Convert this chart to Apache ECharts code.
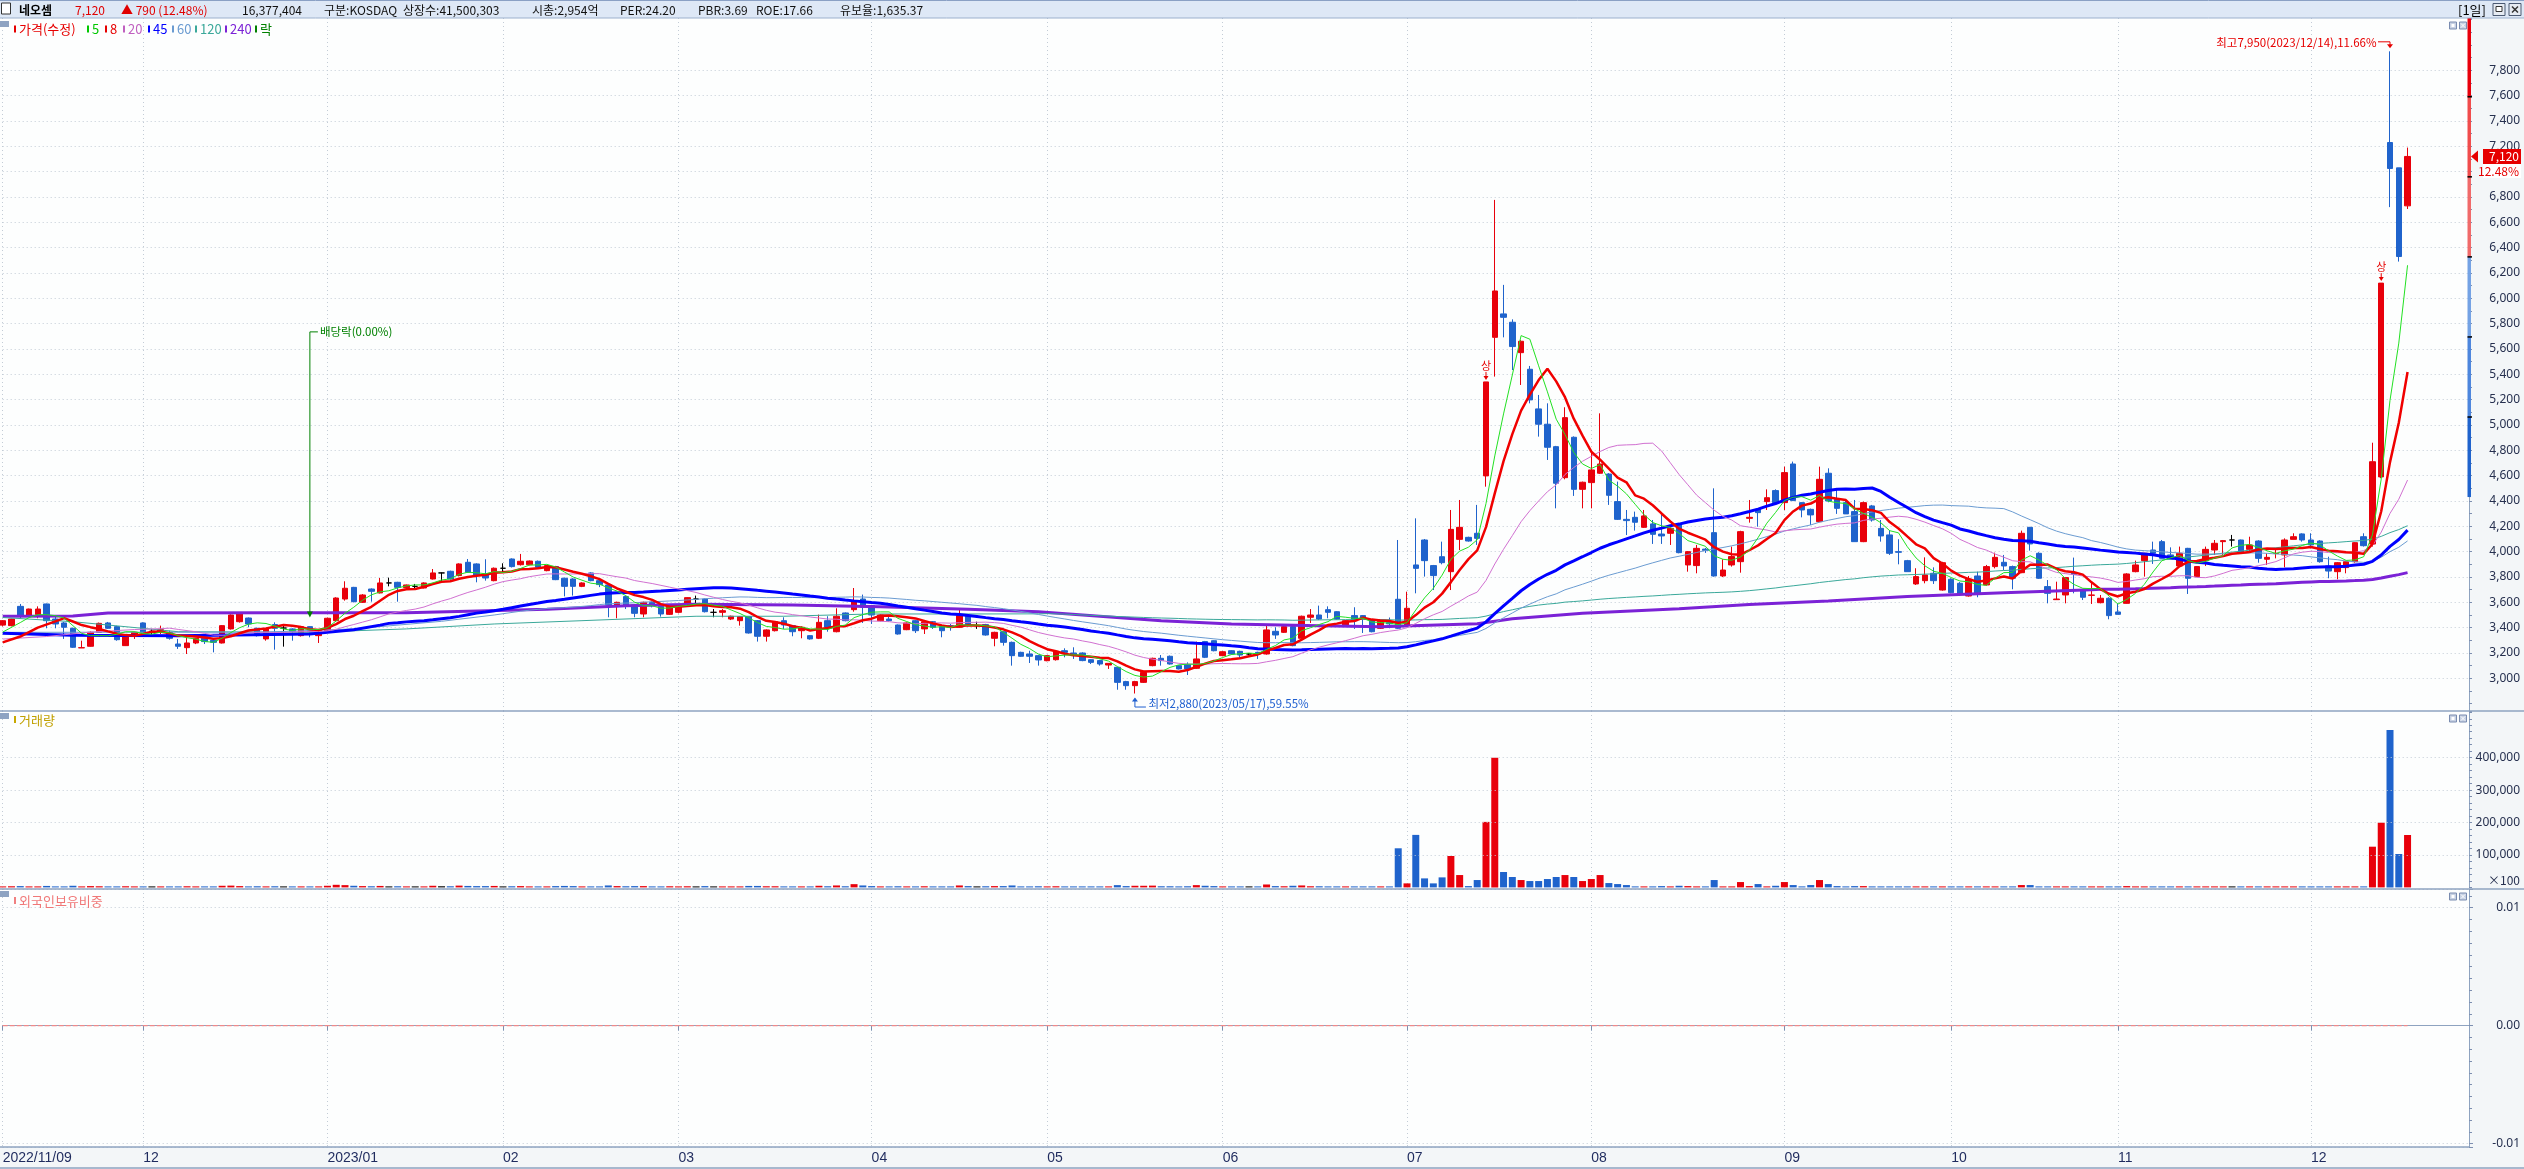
<!DOCTYPE html>
<html>
<head>
<meta charset="utf-8">
<title>네오셈</title>
<script src="https://cdn.jsdelivr.net/npm/echarts@6/dist/echarts.min.js"></script>
<style>
html,body{margin:0;padding:0;background:#f3f6f8;overflow:hidden;}
#chart{width:2524px;height:1169px;}
</style>
</head>
<body>
<div id="chart"></div>
<script>
// ---------------- DATA ----------------
const startDate = '2022-11-09';
const holidays = ['2022-12-30','2023-01-23','2023-01-24','2023-03-01','2023-05-01','2023-05-05','2023-05-29','2023-06-06','2023-08-15','2023-09-28','2023-09-29','2023-10-02','2023-10-03','2023-10-09'];

// [open, close, low, high]
const ohlc = [
[3420,3455,3410,3460],[3416,3468,3410,3470],[3568,3495,3474,3587],[3500,3547,3495,3550],[3503,3547,3474,3568],
[3587,3455,3395,3590],[3468,3429,3395,3500],[3437,3403,3311,3445],[3395,3245,3240,3400],[3240,3242,3240,3297],
[3253,3363,3250,3370],[3363,3434,3360,3440],[3437,3395,3390,3445],[3408,3305,3297,3415],[3258,3342,3255,3350],
[3350,3363,3311,3368],[3437,3363,3358,3442],[3371,3371,3337,3390],[3363,3384,3350,3416],[3363,3316,3305,3376],
[3271,3253,3232,3311],[3242,3279,3192,3332],[3279,3316,3270,3320],[3316,3290,3271,3320],[3300,3284,3205,3305],
[3279,3416,3275,3420],[3390,3500,3385,3505],[3447,3508,3440,3515],[3476,3429,3403,3480],[3395,3337,3330,3400],
[3311,3390,3297,3395],[3424,3395,3226,3442],[3397,3397,3250,3416],[3390,3370,3297,3395],[3337,3408,3330,3412],
[3408,3368,3324,3412],[3337,3382,3279,3390],[3363,3474,3360,3480],[3455,3634,3450,3640],[3626,3711,3613,3766],
[3718,3605,3600,3722],[3600,3658,3595,3665],[3705,3687,3605,3710],[3674,3753,3670,3792],[3753,3753,3726,3795],
[3758,3718,3605,3762],[3716,3737,3710,3740],[3726,3726,3705,3745],[3713,3753,3710,3758],[3784,3832,3780,3863],
[3832,3832,3763,3835],[3845,3784,3780,3850],[3811,3903,3805,3908],[3916,3837,3832,3942],[3903,3811,3758,3908],
[3824,3792,3771,3940],[3771,3869,3766,3875],[3869,3869,3837,3908],[3942,3882,3875,3947],[3897,3924,3890,3982],
[3897,3926,3892,3930],[3924,3876,3870,3930],[3850,3890,3845,3895],[3882,3779,3775,3888],[3790,3726,3647,3795],
[3784,3726,3653,3790],[3726,3753,3720,3758],[3832,3771,3766,3837],[3771,3740,3720,3780],[3737,3579,3482,3742],
[3579,3600,3474,3605],[3645,3574,3547,3653],[3579,3513,3482,3584],[3508,3600,3482,3605],[3600,3574,3560,3610],
[3568,3508,3487,3574],[3505,3579,3500,3584],[3521,3579,3513,3584],[3595,3637,3590,3640],[3626,3626,3587,3653],
[3626,3526,3520,3630],[3521,3521,3482,3547],[3521,3534,3482,3547],[3468,3490,3460,3495],[3455,3487,3416,3492],
[3487,3358,3353,3492],[3455,3332,3290,3460],[3332,3382,3290,3387],[3376,3447,3370,3452],[3455,3421,3390,3482],
[3416,3368,3332,3420],[3376,3403,3316,3410],[3337,3311,3305,3340],[3316,3442,3310,3503],[3455,3403,3368,3490],
[3368,3490,3363,3553],[3516,3455,3450,3520],[3542,3605,3526,3713],[3626,3561,3437,3661],[3574,3500,3429,3580],
[3455,3500,3450,3505],[3468,3455,3447,3490],[3421,3350,3345,3425],[3384,3437,3380,3442],[3455,3376,3358,3460],
[3390,3447,3350,3450],[3447,3403,3390,3452],[3408,3376,3324,3412],[3416,3403,3376,3429],[3403,3495,3398,3540],
[3495,3416,3410,3500],[3416,3416,3390,3447],[3424,3342,3337,3430],[3316,3363,3253,3368],[3368,3284,3258,3372],
[3284,3179,3100,3290],[3205,3174,3170,3210],[3192,3174,3121,3218],[3179,3145,3100,3184],[3139,3179,3135,3184],
[3147,3213,3140,3218],[3218,3205,3166,3237],[3200,3184,3153,3245],[3200,3140,3135,3205],[3147,3126,3113,3150],
[3140,3113,3100,3145],[3105,3118,3074,3120],[3087,2968,2910,3090],[2974,2942,2910,2980],[2942,2974,2880,2980],
[2968,3047,2963,3052],[3100,3158,3095,3163],[3158,3140,3100,3184],[3174,3113,3108,3180],[3100,3074,3070,3105],
[3108,3074,3026,3126],[3079,3153,3074,3290],[3290,3166,3160,3295],[3297,3218,3213,3300],[3179,3210,3174,3215],
[3218,3192,3187,3222],[3213,3184,3158,3218],[3192,3192,3180,3200],[3205,3192,3153,3210],[3192,3382,3187,3429],
[3371,3342,3311,3403],[3363,3408,3358,3421],[3408,3258,3253,3412],[3316,3490,3311,3495],[3482,3500,3437,3547],
[3500,3468,3460,3574],[3542,3521,3474,3568],[3526,3468,3463,3530],[3416,3455,3411,3460],[3495,3455,3390,3561],
[3495,3474,3358,3500],[3463,3368,3363,3468],[3395,3450,3390,3455],[3440,3430,3395,3480],[3624,3395,3390,4092],
[3421,3553,3408,3684],[3895,3868,3671,4263],[4092,3929,3803,4100],[3890,3811,3697,3895],[3960,3913,3900,4079],
[3842,4176,3697,4329],[4097,4192,4013,4408],[4113,4084,4079,4118],[4145,4105,4053,4369],[4598,5340,4513,5340],
[5692,6058,5382,6777],[5877,5850,5692,6106],[5811,5619,5434,5834],[5571,5661,5316,5671],[5440,5198,5171,5466],
[5127,5006,4908,5237],[5006,4824,4724,5171],[4829,4540,4342,4835],[4584,5058,4571,5140],[4903,4492,4440,4910],
[4492,4548,4342,4553],[4545,4645,4342,4803],[4619,4692,4613,5092],[4613,4445,4369,4620],[4395,4255,4250,4553],
[4255,4245,4131,4329],[4271,4232,4166,4316],[4192,4282,4187,4329],[4219,4137,4061,4250],[4139,4124,4061,4303],
[4145,4184,4053,4190],[4219,3992,3987,4225],[3895,4000,3842,4005],[3890,4026,3829,4053],[4020,4010,3990,4030],
[4150,3808,3803,4500],[3808,3855,3800,3940],[3895,3961,3882,4040],[3921,4158,3834,4165],[4263,4271,4229,4408],
[4334,4308,4197,4340],[4395,4426,4329,4492],[4482,4387,4381,4492],[4387,4624,4329,4671],[4692,4403,4400,4711],
[4387,4329,4271,4390],[4334,4290,4211,4340],[4237,4571,4232,4671],[4619,4400,4390,4658],[4413,4342,4298,4487],
[4387,4298,4298,4413],[4316,4079,4079,4408],[4079,4387,4075,4395],[4361,4250,4237,4369],[4184,4124,4079,4250],
[4132,3987,3974,4171],[4000,3995,3900,4098],[3929,3842,3842,3935],[3745,3803,3737,3869],[3771,3816,3750,3955],
[3829,3771,3745,3876],[3697,3913,3692,3920],[3782,3676,3671,3790],[3750,3666,3661,3760],[3650,3782,3645,3808],
[3808,3666,3640,3842],[3737,3882,3732,3895],[3882,3955,3868,3992],[3916,3887,3855,3974],[3882,3790,3703,3890],
[3834,4145,3830,4166],[4192,4061,4008,4195],[3987,3790,3785,3995],[3724,3671,3592,3776],[3621,3626,3621,3763],
[3658,3795,3592,3800],[3834,3821,3671,3953],[3692,3640,3618,3700],[3655,3658,3587,3763],[3597,3632,3592,3658],
[3632,3495,3466,3640],[3524,3505,3505,3592],[3592,3824,3590,3830],[3842,3895,3837,3929],[3929,3987,3803,3990],
[4013,3987,3903,4079],[4079,3947,3945,4092],[3974,3940,3940,4034],[3887,3987,3885,4040],[4026,3790,3666,4030],
[3803,3882,3800,3885],[3929,4018,3887,4040],[4013,4066,3974,4092],[4079,4087,3974,4092],[4092,4092,4040,4132],
[4092,3987,3982,4095],[4018,4053,4000,4118],[4084,3947,3913,4090],[3940,3955,3895,3987],[3985,3987,3947,4026],
[3974,4092,3876,4105],[4097,4118,4097,4145],[4140,4092,4079,4145],[4092,4053,4026,4145],[4084,3921,3913,4090],
[3887,3847,3790,3960],[3842,3913,3782,3918],[3874,3921,3829,3925],[3921,4071,3913,4075],[4118,4047,4040,4145],
[4060,4710,4040,4860],[4590,6120,4580,6120],[7230,7025,6720,7950],[7030,6330,6290,7030],[6730,7120,6705,7190]
];

// volume (display unit: x100 shares)
const volumes = [
3000,3500,4000,2500,3000,4500,2500,3000,5000,3000,
4000,3500,2500,3000,3500,2000,3000,2000,2500,2500,
3000,3500,2500,2000,2500,5000,5500,4000,3000,3500,
3000,3500,2500,2500,3000,3000,2500,5000,8000,7000,
5000,4000,3500,4500,3000,3500,2500,2000,3000,5000,
3500,3500,5500,4500,4000,4000,4500,3000,3500,4000,
3000,3000,2500,4000,4500,4000,2500,3000,2500,6000,
4000,3500,4000,4000,3000,3000,3500,3000,3500,3000,
4000,2500,2500,2500,3000,4500,4500,3500,3500,3000,
3000,3000,2500,5000,3500,6000,3500,10000,6000,4000,
3000,2500,3500,3000,3000,3500,2500,3000,2500,6000,
4000,2500,3500,4000,4000,6000,3000,3000,3500,3000,
3500,2500,2500,3000,2500,2500,2500,7000,4000,5000,
5000,5500,3500,3500,2500,3500,7000,5000,4000,3000,
2500,2500,2000,2500,9000,4000,3500,5000,6000,3500,
3500,3000,3000,2500,2000,2000,2500,2000,3000,120600,
12400,161900,27800,12400,30900,96900,38100,4000,22700,202000,
400000,47400,32000,22700,19600,19600,25800,32000,38100,32000,
19600,25800,38100,13400,10300,7200,2000,3000,3000,4000,
3000,5000,4000,3000,2000,22700,3000,3000,16500,4000,
10300,3000,5000,16500,7200,2000,7200,22700,10300,4000,
2000,4000,4000,2000,1500,1500,1500,1500,1500,1500,
1500,2000,1500,1500,1500,1500,1500,1500,1500,2000,
7200,7200,3000,3000,1500,1500,1500,1500,1500,1500,
1500,1500,4000,2000,1500,1500,1500,1500,1500,3000,
1500,1500,1500,1500,1500,1500,1500,1500,1500,1500,
1500,1500,1500,1500,1500,1500,1500,1500,1500,1500,
125500,199500,485000,103000,161500
];

// foreign ownership ratio (%) - flat 0.00 over the whole period
const foreignRatio = ohlc.map(() => 0);

// moving-average values for the days before each window is complete
const ma5Early   = [[0,3365],[2,3440],[3,3480]];
const ma8Early   = [[0,3284],[2,3330],[4,3400],[6,3450]];
const ma20Early  = [[0,3310],[5,3330],[10,3365],[15,3385],[18,3392]];
const ma45Early  = [[0,3355],[8,3340],[20,3337],[35,3350],[37,3363],[40,3384],[43,3420]];
const ma60Early  = [[0,3363],[30,3365],[40,3390],[50,3450],[56,3500]];
const ma120Early = [[0,3480],[8,3447],[20,3368],[35,3363],[46,3390],[56,3429],[66,3455],[79,3490],[89,3490],[99,3508],[110,3508],[118,3509]];
const ma240Early = [[0,3490],[8,3492],[12,3515],[31,3518],[46,3518],[53,3530],[62,3545],[71,3572],[79,3585],[90,3578],[100,3565],[110,3545],[118,3525],[125,3490],[132,3455],[140,3428],[150,3416],[157,3408],[168,3430],[172,3470],[180,3513],[191,3550],[199,3582],[208,3610],[217,3645],[228,3676],[238,3700]];

const priceGridValues = [3000,3200,3400,3600,3800,4000,4200,4400,4600,4800,5000,5200,5400,5600,5800,6000,6200,6400,6600,6800,7000,7200,7400,7600,7800];
const volumeGridValues = [100000,200000,300000,400000];
const priceRangeBands = [8223,7591,6959,6327,5695,5063,4431];
const exDividend = {index:35, top:5735, tip:3480, label:'배당락(0.00%)'};
const headerTexts = [
  ['네오셈','#000'],['7,120','#e00000'],['▲ 790 (12.48%)','#e00000'],['16,377,404','#111'],['구분:KOSDAQ','#111'],
  ['상장수:41,500,303','#111'],['시총:2,954억','#111'],['PER:24.20','#111'],['PBR:3.69','#111'],['ROE:17.66','#111'],['유보율:1,635.37','#111']
];
const legendItems = [
  ['가격(수정)','#e60000'],['5','#00c800'],['8','#e60000'],['20','#c060c0'],['45','#0000ff'],
  ['60','#6a9bd1'],['120','#3aa89a'],['240','#7b22d6'],['락','#008000']
];

// ---------------- LAYOUT / STYLE ----------------
const headerX = [19,75,121,242,324,403,532,620,698,756,840];
const legendX = [14,87,105,123,148,172,195,225,255];
const UP = '#e8000b', DOWN = '#1f63cc', DOJI = '#000000';
const FONT = '"Noto Sans CJK KR","Noto Sans",sans-serif';
const AXIS_COLOR = '#8ea3c0';
const GRID_LINE = {color:'#c3ccd6', type:[1,3], width:1};
const PLOT_LEFT = 2.7, PLOT_RIGHT = 2469;
const EXTRA = 7;

// trading calendar
function tradingDays(n){
  const out=[]; const d=new Date(startDate+'T00:00:00Z');
  while(out.length<n){
    const dow=d.getUTCDay(); const s=d.toISOString().slice(0,10);
    if(dow!==0 && dow!==6 && holidays.indexOf(s)<0) out.push(s);
    d.setUTCDate(d.getUTCDate()+1);
  }
  return out;
}
const dates = tradingDays(ohlc.length);
const categories = dates.concat(Array.from({length:EXTRA},(_,k)=>'+'+(k+1)));
const tickLabel = {};
dates.forEach((s,i)=>{
  if(i===0){ tickLabel[i]=s.replace(/-/g,'/'); return; }
  if(s.slice(5,7)!==dates[i-1].slice(5,7)) tickLabel[i] = s.slice(5,7)==='01' ? s.slice(0,4)+'/01' : s.slice(5,7);
});
const isTick = (i)=> Object.prototype.hasOwnProperty.call(tickLabel, i);

function movingAvg(n, early){
  const out = early.filter(p=>p[0] < n-1).map(p=>p.slice());
  for(let i=n-1;i<ohlc.length;i++){
    let s=0; for(let k=i-n+1;k<=i;k++) s+=ohlc[k][1];
    out.push([i, Math.round(s/n*10)/10]);
  }
  return out;
}
const signOf = (i)=> ohlc[i][1]>ohlc[i][0] ? 1 : (ohlc[i][1]<ohlc[i][0] ? -1 : 0);
const colorOf = (i)=> { const s=signOf(i); return s>0?UP:(s<0?DOWN:DOJI); };

const maDefs = [
  {n:240, early:ma240Early, color:'#7b22d6', w:3},
  {n:120, early:ma120Early, color:'#3aa89a', w:1},
  {n:60,  early:ma60Early,  color:'#6a9bd1', w:1},
  {n:45,  early:ma45Early,  color:'#0000ff', w:3},
  {n:20,  early:ma20Early,  color:'#d070d0', w:1},
  {n:8,   early:ma8Early,   color:'#f00000', w:2.5},
  {n:5,   early:ma5Early,   color:'#22e022', w:1}
];

function xAxisFor(g){
  const bottom = g===2;
  return {
    type:'category', gridIndex:g, data:categories, boundaryGap:false, position:'bottom',
    axisLine:{show:bottom, lineStyle:{color:AXIS_COLOR}},
    axisTick:{show:bottom, interval:(i)=>isTick(i), length:5, lineStyle:{color:'#7a8fb0'}},
    axisLabel:{show:bottom, interval:(i)=>isTick(i), formatter:(v,i)=>tickLabel[i]||'', align:'left', margin:4,
      color:'#1f2b5e', fontSize:14, fontFamily:'"Liberation Sans Narrow","Liberation Sans",sans-serif'},
    splitLine:{show:true, interval:(i)=>isTick(i), lineStyle:GRID_LINE}
  };
}
const yLabelStyle = {color:'#26304f', fontSize:12, fontFamily:'"Noto Sans",sans-serif', align:'right', margin:51};

const option = {
  animation:false,
  backgroundColor:'transparent',
  grid:[
    {left:PLOT_LEFT, top:18, width:PLOT_RIGHT-PLOT_LEFT, height:693, outerBoundsMode:'none'},
    {left:PLOT_LEFT, top:711, width:PLOT_RIGHT-PLOT_LEFT, height:176.4, outerBoundsMode:'none'},
    {left:PLOT_LEFT, top:889, width:PLOT_RIGHT-PLOT_LEFT, height:258, outerBoundsMode:'none'}
  ],
  xAxis:[xAxisFor(0), xAxisFor(1), xAxisFor(2)],
  yAxis:[
    {type:'value', gridIndex:0, position:'right', min:2742, max:8213, splitNumber:27, minInterval:200, maxInterval:200,
     axisLine:{show:true, lineStyle:{color:AXIS_COLOR}}, axisTick:{show:true, length:3, lineStyle:{color:'#7d8fb0'}},
     minorTick:{show:true, splitNumber:2, length:3, lineStyle:{color:'#7d8fb0'}},
     splitLine:{show:false},
     axisLabel:Object.assign({formatter:(v)=> (v>=3000 && v<=7800) ? v.toLocaleString('en-US') : ''}, yLabelStyle)},
    {type:'value', gridIndex:1, position:'right', min:0, max:543900, splitNumber:5, minInterval:100000, maxInterval:100000,
     axisLine:{show:true, lineStyle:{color:AXIS_COLOR}}, axisTick:{show:true, length:3, lineStyle:{color:'#7d8fb0'}},
     minorTick:{show:true, splitNumber:5, length:3, lineStyle:{color:'#7d8fb0'}},
     splitLine:{show:false},
     axisLabel:Object.assign({formatter:(v)=> (v>=100000 && v<=400000) ? v.toLocaleString('en-US') : ''}, yLabelStyle)},
    {type:'value', gridIndex:2, position:'right', min:-0.01028, max:0.011585, splitNumber:2, minInterval:0.01, maxInterval:0.01,
     axisLine:{show:true, lineStyle:{color:AXIS_COLOR}}, axisTick:{show:true, length:4, lineStyle:{color:'#7d8fb0'}},
     minorTick:{show:true, splitNumber:10, length:3, lineStyle:{color:'#7d8fb0'}},
     splitLine:{show:true, lineStyle:GRID_LINE},
     axisLabel:Object.assign({formatter:(v)=> { const r=Math.round(v*100)/100; return Math.abs(v-r)<1e-7 ? r.toFixed(2) : ''; }}, yLabelStyle)}
  ],
  series:[
    {type:'candlestick', name:'가격(수정)', xAxisIndex:0, yAxisIndex:0, data:ohlc, barWidth:6, z:2,
     itemStyle:{color:UP, color0:DOWN, borderColor:UP, borderColor0:DOWN, borderColorDoji:DOJI, borderWidth:1},
     markLine:{silent:true, symbol:['none','none'], label:{show:false}, lineStyle:GRID_LINE, z:1,
       data:priceGridValues.map(v=>({yAxis:v}))}},
  ].concat(maDefs.map(m=>({
    type:'line', name:String(m.n), xAxisIndex:0, yAxisIndex:0, data:movingAvg(m.n, m.early),
    symbol:'none', showSymbol:false, silent:true, z:3, connectNulls:true,
    lineStyle:{color:m.color, width:m.w}
  }))).concat([
    {type:'bar', name:'거래량', xAxisIndex:1, yAxisIndex:1, barWidth:7, barMinHeight:1,
     data:volumes.map((v,i)=>({value:v, itemStyle:{color:colorOf(i)}})),
     markLine:{silent:true, symbol:['none','none'], label:{show:false}, lineStyle:GRID_LINE,
       data:volumeGridValues.map(v=>({yAxis:v}))}},
    {type:'line', name:'외국인보유비중', xAxisIndex:2, yAxisIndex:2, data:foreignRatio, symbol:'none', silent:true,
     lineStyle:{color:'#f08a8a', width:1.2, type:[5,2]}}
  ])
};

const chart = echarts.init(document.getElementById('chart'), null, {width:2524, height:1169});
chart.setOption(option);

// ---------------- ANNOTATIONS (positioned through the chart's own scales) ----------------
const P = (i,v)=> chart.convertToPixel({xAxisIndex:0, yAxisIndex:0}, [i,v]);
const G = [];
function T(t,x,y,fill,size,align,weight){
  return {type:'text', silent:true, z:60, style:{text:t, x:x, y:y, fill:fill, font:(weight||'normal')+' '+(size||12)+'px '+FONT,
    align:align||'left', verticalAlign:'middle', textAlign:align||'left', textVerticalAlign:'middle'}};
}
function R(x,y,w,h,fill,stroke,z){ return {type:'rect', silent:true, z:z==null?60:z, shape:{x:x,y:y,width:w,height:h}, style:{fill:fill, stroke:stroke||null, lineWidth:1}}; }
function L(x1,y1,x2,y2,stroke,w,z){ return {type:'line', silent:true, z:z==null?60:z, shape:{x1:x1,y1:y1,x2:x2,y2:y2}, style:{stroke:stroke, lineWidth:w||1}}; }
function PG(pts,fill){ return {type:'polygon', silent:true, z:60, shape:{points:pts}, style:{fill:fill}}; }
function PL(pts,stroke){ return {type:'polyline', silent:true, z:60, shape:{points:pts}, style:{stroke:stroke, fill:null, lineWidth:1}}; }

// plot background
G.push(R(0,18,PLOT_RIGHT,1129,'#fdfefe',null,-10));
// header bar
G.push(R(0,0,2524,18,'#dee8f6',null,55));
G.push(L(0,0.5,2524,0.5,'#8aa0c4',1,56));
G.push(L(0,18,2524,18,'#9cb0cd',1,56));
G.push(R(1.5,3,9,11,'#ffffff','#333333',57));
headerTexts.forEach((h,k)=> G.push(T(h[0], headerX[k], 10, h[1], 12, 'left', k===0?'bold':'normal')));
G.push(T('[1일]', 2458, 10, '#000', 13));
G.push(R(2493,3.5,12,12,'#e6ebf2','#4b5a72',57)); G.push(R(2496,6.5,6,5,'#ffffff','#333',58));
G.push(R(2509,3.5,12,12,'#e6ebf2','#4b5a72',57));
G.push(L(2512,6.5,2518,12.5,'#333',1.5,58)); G.push(L(2518,6.5,2512,12.5,'#333',1.5,58));

// panel separators
G.push(L(0,711,2524,711,AXIS_COLOR,1.5));
G.push(L(0,889,2524,889,AXIS_COLOR,1.5));
G.push(L(0,1147,PLOT_RIGHT,1147,AXIS_COLOR,1.5));
G.push(L(0,1168,2524,1168,AXIS_COLOR,1.5));

// panel title rows
G.push(R(0,21,9,6,'#8ea3c2'));
legendItems.forEach((it,k)=>{
  G.push(R(legendX[k],25.5,2,7,it[1]));
  G.push(T(it[0], legendX[k]+5, 29, it[1], 13));
});
G.push(R(0,713,9,6,'#8ea3c2'));
G.push(R(14,716,2,7,'#c8a800')); G.push(T('거래량', 19, 720, '#c0a000', 13));
G.push(R(0,891,9,6,'#8ea3c2'));
G.push(R(14,897,2,7,'#f08080')); G.push(T('외국인보유비중', 19, 901, '#f07878', 13));
// panel control boxes
[22,715,893].forEach(y=>{
  G.push(R(2449.5,y,7,7,'#c7d1e3','#7a8cb0')); G.push(R(2451.5,y+2,3,3,'#ffffff',null));
  G.push(R(2459.5,y,7,7,'#c7d1e3','#7a8cb0'));
  G.push(L(2461,y+1.5,2465,y+5.5,'#ffffff',1,61)); G.push(L(2465,y+1.5,2461,y+5.5,'#ffffff',1,61));
});
G.push(T('×100', 2520, 880, '#26304f', 12, 'right'));

// price range band on the price axis
const bandColors = ['#e8000b','#f04c4c','#f06a6a','#74a2e4','#4d86dd','#1f63cc'];
for(let k=0;k<priceRangeBands.length-1;k++){
  let y1 = Math.max(18, P(0,priceRangeBands[k])[1]);
  const y2 = P(0,priceRangeBands[k+1])[1];
  G.push(R(PLOT_RIGHT-1.5, y1, 3.5, y2-y1, bandColors[k], null, 40));
  if(k>0) G.push(L(PLOT_RIGHT-1.5, y1, PLOT_RIGHT+3, y1, '#000', 1.5, 41));
}

// highest / lowest notes
let hi=0, lo=0;
ohlc.forEach((d,i)=>{ if(d[3]>ohlc[hi][3]) hi=i; if(d[2]<ohlc[lo][2]) lo=i; });
const last = ohlc.length-1;
const lastClose = ohlc[last][1];
const fmt = (v)=> v.toLocaleString('en-US');
const ds = (i)=> dates[i].replace(/-/g,'/');
{
  const [xh,yh] = P(hi, ohlc[hi][3]);
  const pct = ((ohlc[hi][3]-lastClose)/lastClose*100).toFixed(2);
  G.push(T('최고'+fmt(ohlc[hi][3])+'('+ds(hi)+'),'+pct+'%', xh-13.5, yh-9, '#e60000', 11.5, 'right'));
  G.push(PL([[xh-12,yh-9.5],[xh,yh-9.5],[xh,yh-5]], '#e60000'));
  G.push(PG([[xh-3,yh-7],[xh+3,yh-7],[xh,yh-3]], '#e60000'));
}
{
  const [xl,yl] = P(lo, ohlc[lo][2]);
  const pct = ((lastClose-ohlc[lo][2])/lastClose*100).toFixed(2);
  G.push(PL([[xl,yl+5],[xl,yl+13.5],[xl+11,yl+13.5]], '#1f5fd0'));
  G.push(PG([[xl-3,yl+8],[xl+3,yl+8],[xl,yl+4]], '#1f5fd0'));
  G.push(T('최저'+fmt(ohlc[lo][2])+'('+ds(lo)+'),'+pct+'%', xl+13.5, yl+10.5, '#1f5fd0', 11.5, 'left'));
}
// ex-dividend marker
{
  const [xe,yt] = P(exDividend.index, exDividend.top);
  const yb = P(exDividend.index, exDividend.tip)[1];
  G.push(L(xe,yt,xe,yb-4,'#008000',1));
  G.push(L(xe,yt,xe+8,yt,'#008000',1));
  G.push(PG([[xe-3,yb-6],[xe+3,yb-6],[xe,yb]], '#008000'));
  G.push(T(exDividend.label, xe+10, yt, '#008000', 11.5, 'left'));
}
// limit-up markers
for(let i=1;i<ohlc.length;i++){
  if(ohlc[i][1]/ohlc[i-1][1] > 1.29){
    const [xu,yu] = P(i, ohlc[i][3]);
    G.push(T('상', xu, yu-16, '#e60000', 11, 'center'));
    G.push(L(xu,yu-10,xu,yu-4,'#e60000',1));
    G.push(PG([[xu-2.5,yu-6],[xu+2.5,yu-6],[xu,yu-2]], '#e60000'));
  }
}
// current price box
{
  const yb = P(last, lastClose)[1];
  const chg = ((lastClose-ohlc[last-1][1])/ohlc[last-1][1]*100).toFixed(2);
  G.push(PG([[PLOT_RIGHT+2,yb],[PLOT_RIGHT+9,yb-6],[PLOT_RIGHT+9,yb+6]], '#e60000'));
  G.push(R(PLOT_RIGHT+14, yb-7.5, 38, 15, '#e60000'));
  G.push(T(fmt(lastClose), 2519, yb, '#ffffff', 12, 'right'));
  G.push(R(PLOT_RIGHT+14, yb+7.5, 38, 14, '#ffffff'));
  G.push(T(chg+'%', 2519, yb+14.5, '#e60000', 12, 'right'));
}
chart.setOption({graphic:G});
</script>
</body>
</html>
